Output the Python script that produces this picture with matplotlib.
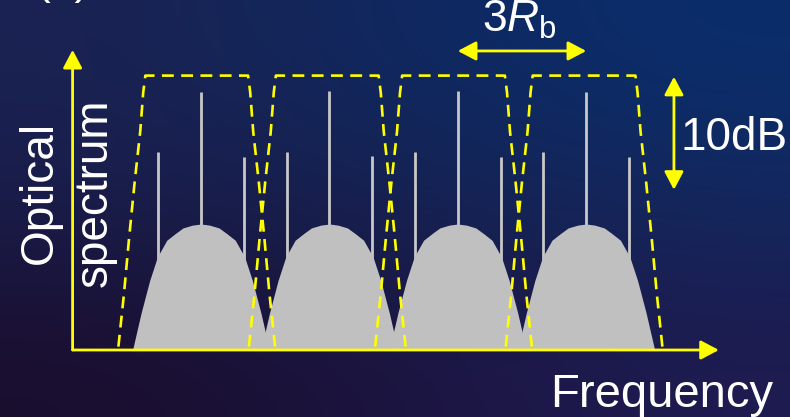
import numpy as np
import matplotlib
matplotlib.use("Agg")
from matplotlib import pyplot as plt
from matplotlib.patches import FancyArrowPatch, ArrowStyle
from matplotlib.colors import to_rgb

plt.rcParams['font.family'] = ['Liberation Sans', 'DejaVu Sans']
plt.rcParams['mathtext.fontset'] = 'custom'
plt.rcParams['mathtext.rm'] = 'Liberation Sans'
plt.rcParams['mathtext.it'] = 'Liberation Sans:italic'

# frequency in units of Rb, power in dB
carriers = [0, 3, 6, 9]
carrier_top = [23.0, 23.1, 23.1, 23.0]
lower_tone_top = [17.7, 17.7, 17.7, 17.7]
upper_tone_top = [17.2, 17.3, 17.2, 17.2]
tone_offset = 1.0

# spectrum shape around each carrier
hump_df = [-1.60, -1.40, -1.20, -1.02, -0.80, -0.60, -0.42, -0.20, 0.0,
           0.20, 0.42, 0.60, 0.80, 1.02, 1.20, 1.40, 1.60]
hump_db = [0.0, 3.3, 6.2, 8.3, 9.8, 10.4, 10.9, 11.15, 11.25,
           11.15, 10.9, 10.4, 9.8, 8.3, 6.2, 3.3, 0.0]

# optical filters (dashed)
filter_centers = [-0.1, 2.95, 5.9, 8.95]
filter_df = [-1.83, -1.70, -1.58, -1.45, -1.32, -1.25, -1.20,
             1.20, 1.25, 1.32, 1.45, 1.58, 1.70, 1.83]
filter_db = [0.3, 5.0, 10.0, 15.0, 19.5, 23.0, 24.5,
             24.5, 23.0, 19.5, 15.0, 10.0, 5.0, 0.3]

YEL = '#ffff00'
GRAY = '#c0c0c0'

fig = plt.figure(figsize=(7.9, 4.17), dpi=100)
ax = fig.add_axes([0, 0, 1, 1])
xlim = (-201 / 42.8, 589 / 42.8)
ylim = (-67 / 11.2, 350 / 11.2)

bg = np.array([[to_rgb(c) for c in row] for row in [
    ['#1a2352', '#0f2860', '#0a2e6c'],
    ['#1a1c4a', '#16214f', '#14275c'],
    ['#1a0e2e', '#1c1440', '#1e1b50']]])
ax.imshow(bg, extent=(*xlim, *ylim), aspect='auto', interpolation='bicubic', zorder=0)

ax.vlines(carriers, 0, carrier_top, color='#c8c8c8', lw=2, zorder=1)
ax.vlines(np.array(carriers) - tone_offset, 0, lower_tone_top, color='#c8c8c8', lw=2, zorder=1)
ax.vlines(np.array(carriers) + tone_offset, 0, upper_tone_top, color='#c8c8c8', lw=2, zorder=1)

for c in carriers:
    ax.fill_between(c + np.array(hump_df), hump_db, 0, color=GRAY, lw=0, zorder=2)

for fc in filter_centers:
    ax.plot(fc + np.array(filter_df), filter_db, color=YEL, lw=1.9,
            dashes=(4.5, 2.8), zorder=3)


def arrow(p0, p1, both=False):
    style = ArrowStyle('<|-|>' if both else '-|>', head_length=11, head_width=5.8)
    ax.add_patch(FancyArrowPatch(p0, p1, arrowstyle=style, mutation_scale=1,
                                 lw=2, color=YEL, shrinkA=0, shrinkB=0, zorder=4))


arrow((-3, 0), (-3, 26.8))
arrow((-3, 0), (12.1, 0))
arrow((6, 26.7), (9, 26.7), both=True)
arrow((11.05, 24.4), (11.05, 14.3), both=True)

ax.set_xlim(*xlim)
ax.set_ylim(*ylim)
ax.axis('off')

W, H = 790, 417
fig.text(52 / W, 1 - 192 / H, 'Optical', rotation=90, rotation_mode='anchor',
         ha='center', va='baseline', fontsize=33, color='white')
fig.text(107 / W, 1 - 193 / H, 'spectrum', rotation=90, rotation_mode='anchor',
         ha='center', va='baseline', fontsize=33, color='white')
fig.text(662 / W, 1 - 407 / H, 'Frequency', ha='center', va='baseline',
         fontsize=34, color='white')
fig.text(734 / W, 1 - 150 / H, '10dB', ha='center', va='baseline',
         fontsize=33, color='white')
fig.text(482 / W, 1 - 32 / H, r'$\mathit{3R}_{\mathrm{b}}$', ha='left', va='baseline',
         fontsize=32, color='white')
fig.text(35 / W, 1 + 6 / H, '(b)', ha='left', va='baseline', fontsize=32, color='white')

fig.savefig('out.png', dpi=100)
